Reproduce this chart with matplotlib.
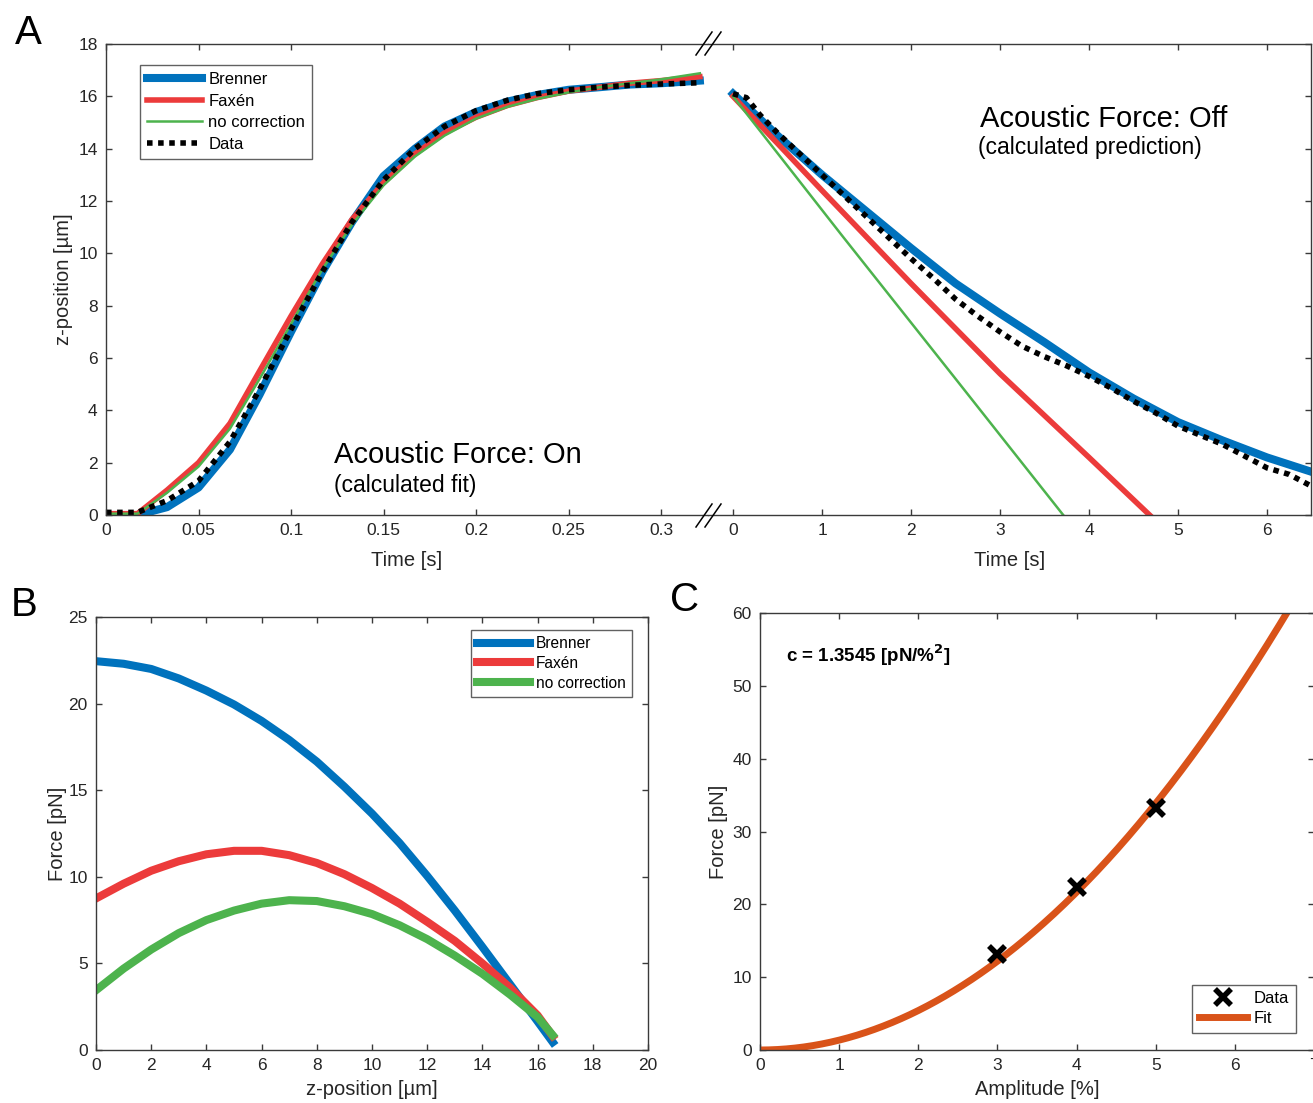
import numpy as np
import matplotlib
matplotlib.use("Agg")
import matplotlib.pyplot as plt
from matplotlib.lines import Line2D

plt.rcParams['font.family'] = ['Liberation Sans', 'DejaVu Sans']

# ---------------- data ----------------
# Panel A, force on (fit)
t_on = [0.000, 0.017, 0.033, 0.050, 0.067, 0.083, 0.100, 0.117, 0.133, 0.150,
        0.167, 0.183, 0.200, 0.217, 0.233, 0.250, 0.267, 0.283, 0.300, 0.321]
brenner_on = [0.0, 0.0, 0.3, 1.05, 2.5, 4.6, 7.0, 9.3, 11.2, 12.95,
              14.0, 14.85, 15.4, 15.8, 16.05, 16.25, 16.35, 16.45, 16.5, 16.6]
faxen_on = [0.05, 0.05, 0.95, 2.0, 3.5, 5.5, 7.6, 9.6, 11.3, 12.7,
            13.8, 14.6, 15.2, 15.65, 15.95, 16.2, 16.35, 16.5, 16.6, 16.75]
nocorr_on = [0.05, 0.05, 0.85, 1.85, 3.3, 5.2, 7.3, 9.4, 11.1, 12.6,
             13.7, 14.5, 15.15, 15.6, 15.9, 16.15, 16.35, 16.5, 16.65, 16.88]
data_on = [0.1, 0.1, 0.55, 1.3, 2.8, 4.8, 7.1, 9.3, 11.2, 12.8,
           14.0, 14.85, 15.45, 15.85, 16.1, 16.25, 16.35, 16.42, 16.47, 16.52]

# Panel A, force off (prediction)
t_off_b = [0.0, 0.5, 1.0, 1.5, 2.0, 2.5, 3.0, 3.5, 4.0, 4.5, 5.0, 5.5, 6.0, 6.5]
brenner_off = [16.1, 14.5, 13.0, 11.6, 10.2, 8.85, 7.7, 6.6, 5.45, 4.45, 3.55, 2.85, 2.2, 1.65]
t_off_f = [0.0, 1.0, 2.0, 3.0, 4.0, 4.68]
faxen_off = [16.0, 12.4, 8.85, 5.4, 2.2, 0.0]
t_off_n = [0.0, 1.22, 2.49, 3.71]
nocorr_off = [16.0, 10.7, 5.25, 0.0]
t_off_d = [0.0, 0.15, 0.3, 0.5, 0.75, 1.0, 1.25, 1.5, 1.75, 2.0, 2.25, 2.5, 2.75,
           3.0, 3.25, 3.5, 3.75, 4.0, 4.25, 4.5, 4.75, 5.0, 5.25, 5.5, 5.75, 6.0, 6.25, 6.5]
data_off = [16.1, 15.95, 15.3, 14.6, 13.8, 13.0, 12.2, 11.4, 10.6, 9.8, 9.05, 8.25, 7.6,
            7.0, 6.45, 6.05, 5.7, 5.3, 4.85, 4.35, 3.9, 3.4, 3.05, 2.7, 2.25, 1.8, 1.55, 1.1]

# Panel B, force vs height
z_b = [0, 1, 2, 3, 4, 5, 6, 7, 8, 9, 10, 11, 12, 13, 14, 15, 16, 16.55]
force_brenner = [22.45, 22.3, 22.0, 21.45, 20.75, 19.95, 19.0, 17.9, 16.65, 15.2,
                 13.65, 11.95, 10.05, 8.05, 5.95, 3.8, 1.65, 0.45]
force_faxen = [8.75, 9.6, 10.35, 10.9, 11.3, 11.5, 11.5, 11.25, 10.8, 10.15,
               9.35, 8.45, 7.4, 6.3, 5.0, 3.6, 2.0, 0.8]
force_nocorr = [3.45, 4.7, 5.8, 6.75, 7.5, 8.05, 8.45, 8.65, 8.6, 8.3,
                7.85, 7.2, 6.4, 5.45, 4.4, 3.2, 1.9, 0.85]

# Panel C, force vs amplitude
amp_data = [3, 4, 5]
force_data = [13.2, 22.4, 33.2]
c_fit = 1.3545
amp_max = 6.655

# ---------------- styling ----------------
C_BLUE = '#0072BD'
C_RED = '#EC3B3B'
C_GREEN = '#4DB34D'
C_ORANGE = '#D95319'
AX_COL = '#3a3a3a'
TXT_COL = '#262626'

W, H = 1313, 1103
fig = plt.figure(figsize=(W / 100, H / 100), dpi=100)


def px_axes(x0, x1, ytop, ybot):
    return fig.add_axes([x0 / W, 1 - ybot / H, (x1 - x0) / W, (ybot - ytop) / H])


def style(ax, right=True, left=True):
    for s in ax.spines.values():
        s.set_color(AX_COL)
        s.set_linewidth(1.0)
    ax.tick_params(direction='in', length=4.5, width=1.0, color=AX_COL,
                   labelcolor=TXT_COL, labelsize=12.5, top=True, right=right,
                   left=left, pad=6)


def legend_box(ax, fontsize=12, handlelength=3.3, **kw):
    leg = ax.legend(fontsize=fontsize, handlelength=handlelength, handletextpad=0.4,
                    borderpad=0.4, borderaxespad=0, fancybox=False,
                    frameon=True, **kw)
    leg.get_frame().set_edgecolor(AX_COL)
    leg.get_frame().set_linewidth(1.0)
    return leg


# ---------------- panel A ----------------
axL = px_axes(106, 708, 44, 515)
axR = px_axes(708, 1311, 44, 515)

for ax in (axL, axR):
    style(ax)
axL.tick_params(right=False)
axR.tick_params(left=False, labelleft=False)
axL.spines['right'].set_visible(False)
axR.spines['left'].set_visible(False)

lw_b, lw_f, lw_n, lw_d = 5.8, 4.0, 1.8, 4.0
axL.plot(t_on, brenner_on, color=C_BLUE, lw=lw_b, label='Brenner')
axL.plot(t_on, faxen_on, color=C_RED, lw=lw_f, label='Faxén')
axL.plot(t_on, nocorr_on, color=C_GREEN, lw=lw_n, label='no correction')
axL.plot(t_on, data_on, color='black', lw=lw_d, dashes=(1, 1), dash_capstyle='butt',
         label='Data')

axR.plot(t_off_b, brenner_off, color=C_BLUE, lw=lw_b)
axR.plot(t_off_f, faxen_off, color=C_RED, lw=lw_f)
axR.plot(t_off_n, nocorr_off, color=C_GREEN, lw=lw_n)
axR.plot(t_off_d, data_off, color='black', lw=lw_d, dashes=(1, 1), dash_capstyle='butt')

axL.set_xlim(0, 0.3254)
axR.set_xlim(-0.281, 6.494)
for ax in (axL, axR):
    ax.set_ylim(0, 18)
    ax.set_yticks(np.arange(0, 19, 2))
axL.set_xticks([0, 0.05, 0.1, 0.15, 0.2, 0.25, 0.3])
axL.set_xticklabels(['0', '0.05', '0.1', '0.15', '0.2', '0.25', '0.3'])
axR.set_xticks(range(0, 7))

axL.set_xlabel('Time [s]', fontsize=14.5, color=TXT_COL, labelpad=9)
axR.set_xlabel('Time [s]', fontsize=14.5, color=TXT_COL, labelpad=9)
axL.set_ylabel('z-position [µm]', fontsize=14.5, color=TXT_COL, labelpad=4)

legend_box(axL, loc='upper left', bbox_to_anchor=(0.0565, 0.955), labelspacing=0.4)

axL.text(0.379, 0.127, 'Acoustic Force: On', transform=axL.transAxes, fontsize=21,
         va='center', ha='left', color='black')
axL.text(0.379, 0.062, '(calculated fit)', transform=axL.transAxes, fontsize=16.5,
         va='center', ha='left', color='black')
axR.text(0.451, 0.841, 'Acoustic Force: Off', transform=axR.transAxes, fontsize=21,
         va='center', ha='left', color='black')
axR.text(0.448, 0.781, '(calculated prediction)', transform=axR.transAxes, fontsize=16.5,
         va='center', ha='left', color='black')

# axis break marks
for yc in (43, 515):
    for dx in (0, 9):
        fig.add_artist(Line2D([(696 + dx) / W, (712 + dx) / W],
                              [1 - (yc + 12) / H, 1 - (yc - 11) / H],
                              color='black', lw=1.1))

# ---------------- panel B ----------------
axB = px_axes(96, 648, 617, 1050)
style(axB)
axB.plot(z_b, force_brenner, color=C_BLUE, lw=5.8, label='Brenner')
axB.plot(z_b, force_faxen, color=C_RED, lw=5.8, label='Faxén')
axB.plot(z_b, force_nocorr, color=C_GREEN, lw=5.8, label='no correction')
axB.set_xlim(0, 20)
axB.set_ylim(0, 25)
axB.set_xticks(range(0, 21, 2))
axB.set_yticks(range(0, 26, 5))
axB.set_xlabel('z-position [µm]', fontsize=14.5, color=TXT_COL, labelpad=5)
axB.set_ylabel('Force [pN]', fontsize=14.5, color=TXT_COL, labelpad=1)
legend_box(axB, fontsize=11.2, handlelength=3.4, loc='upper right',
           bbox_to_anchor=(0.971, 0.970), labelspacing=0.3)

# ---------------- panel C ----------------
axC = px_axes(760, 1314, 613, 1050)
style(axC)
amp_fit = np.linspace(0, amp_max, 300)
axC.plot(amp_data, force_data, linestyle='none', marker='x', ms=11, mew=4,
         color='black', label='Data', zorder=3)
axC.plot(amp_fit, c_fit * amp_fit ** 2, color=C_ORANGE, lw=5.0, label='Fit', zorder=2)
axC.set_xlim(0, 7)
axC.set_ylim(0, 60)
axC.set_xticks(range(0, 8))
axC.set_yticks(range(0, 61, 10))
axC.set_xlabel('Amplitude [%]', fontsize=14.5, color=TXT_COL, labelpad=5)
axC.set_ylabel('Force [pN]', fontsize=14.5, color=TXT_COL, labelpad=3)
axC.text(0.047, 0.904, 'c = %.4f [pN/%%$^{\\mathbf{2}}$]' % c_fit, transform=axC.transAxes,
         fontsize=13.5, fontweight='bold', va='center', ha='left', color='black')
legend_box(axC, handlelength=2.9, loc='lower right',
           bbox_to_anchor=(0.9675, 0.039), labelspacing=0.3)

# ---------------- panel letters ----------------
fig.text(28 / W, 1 - 33 / H, 'A', fontsize=29, ha='center', va='center')
fig.text(24 / W, 1 - 605 / H, 'B', fontsize=29, ha='center', va='center')
fig.text(685 / W, 1 - 600 / H, 'C', fontsize=29, ha='center', va='center')

fig.savefig('out.png', dpi=100)
